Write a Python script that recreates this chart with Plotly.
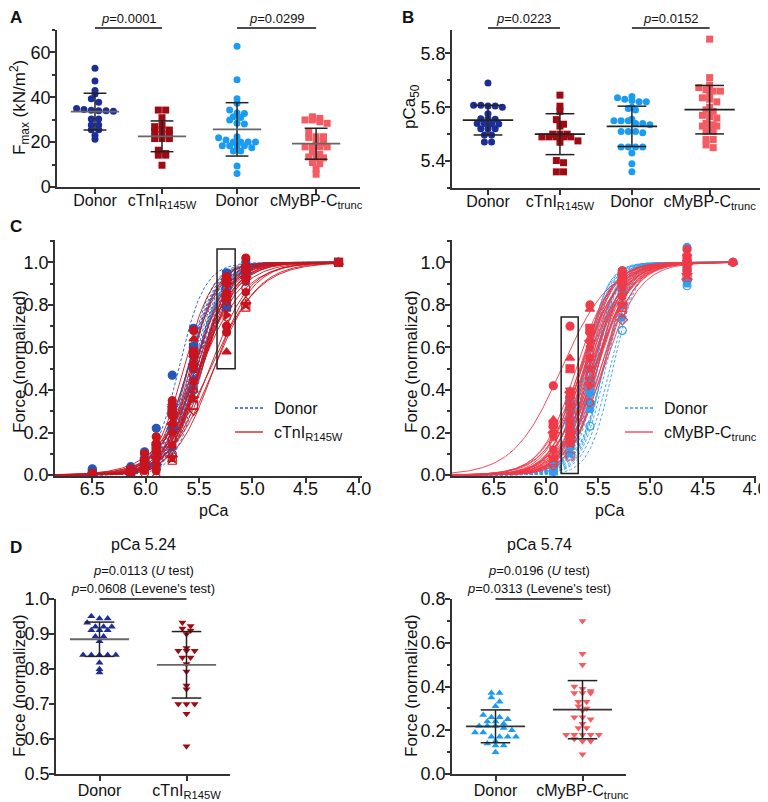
import numpy as np
import plotly.graph_objects as go

# page body has an 8px margin: draw on a 760x794 canvas, reference pixels shifted by 8
W, H = 768, 802
OFF = 8
FW, FH = W - OFF, H - OFF
FONT = "Arial, Liberation Sans, sans-serif"

# ---------------- Panel A: Fmax (kN/m2) ----------------
groups_ab = ["Donor", "cTnI<sub>R145W</sub>", "Donor", "cMyBP-C<sub>trunc</sub>"]
fmax_donor1 = [53.0, 47.3, 43.0, 41.5, 39.3, 37.8, 35.0, 34.5, 34.2, 34.0, 34.0, 33.8,
               30.3, 30.3, 27.6, 27.6, 25.5, 25.5, 23.0, 21.3]
fmax_ctni = [34.3, 34.3, 30.9, 27.6, 26.9, 25.7, 25.4, 24.6, 23.6, 23.1, 21.6, 21.6,
             21.6, 16.4, 14.9, 14.2, 14.2, 9.7]
fmax_donor2 = [62.7, 47.8, 39.3, 37.3, 34.3, 33.0, 32.8, 31.3, 31.0, 29.9, 28.4, 28.1,
               22.4, 22.0, 20.9, 20.1, 20.1, 20.1, 20.1, 18.4, 18.4, 18.4, 18.4, 17.5,
               16.1, 16.1, 9.4, 6.0]
fmax_mybpc = [31.3, 30.6, 29.9, 29.9, 29.1, 28.4, 24.6, 22.4, 22.4, 22.1, 20.1, 19.5,
              17.9, 17.9, 17.9, 17.9, 15.7, 14.5, 13.4, 13.0, 13.0, 10.9, 10.4, 8.1, 5.7]
fmax_mean = [33.6, 22.6, 25.7, 19.3]
fmax_sd = [8.2, 6.85, 11.9, 6.9]
p_a = ["<i>p</i>=0.0001", "<i>p</i>=0.0299"]

# ---------------- Panel B: pCa50 ----------------
pca50_donor1 = [5.690, 5.607, 5.607, 5.605, 5.605, 5.600, 5.576, 5.557, 5.557, 5.555,
                5.540, 5.540, 5.538, 5.538, 5.520, 5.520, 5.520, 5.497, 5.497, 5.471, 5.471]
pca50_ctni = [5.645, 5.604, 5.585, 5.554, 5.537, 5.530, 5.500, 5.500, 5.500, 5.490,
              5.490, 5.490, 5.490, 5.490, 5.475, 5.470, 5.402, 5.394, 5.360, 5.360]
pca50_donor2 = [5.640, 5.635, 5.630, 5.625, 5.620, 5.620, 5.600, 5.595, 5.590, 5.555,
                5.550, 5.550, 5.550, 5.540, 5.540, 5.535, 5.510, 5.510, 5.510, 5.505,
                5.452, 5.452, 5.452, 5.452, 5.430, 5.390, 5.360]
pca50_mybpc = [5.853, 5.710, 5.682, 5.673, 5.665, 5.660, 5.660, 5.640, 5.635, 5.630,
               5.620, 5.600, 5.590, 5.585, 5.570, 5.565, 5.560, 5.540, 5.535, 5.530,
               5.530, 5.530, 5.510, 5.510, 5.480, 5.480, 5.460, 5.450]
pca50_mean = [5.552, 5.500, 5.529, 5.591]
pca50_sd = [0.055, 0.076, 0.075, 0.090]
p_b = ["<i>p</i>=0.0223", "<i>p</i>=0.0152"]

# ---------------- Panel D: force at the boxed pCa ----------------
force524_donor = [0.951, 0.944, 0.944, 0.932, 0.921, 0.921, 0.921, 0.911, 0.911, 0.911,
                  0.893, 0.893, 0.879, 0.840, 0.840, 0.840, 0.840, 0.840, 0.818, 0.799, 0.790]
force524_ctni = [0.933, 0.923, 0.916, 0.910, 0.900, 0.860, 0.852, 0.852, 0.852, 0.833,
                 0.833, 0.814, 0.793, 0.753, 0.742, 0.700, 0.700, 0.700, 0.672, 0.579]
force574_donor = [0.37, 0.37, 0.35, 0.33, 0.31, 0.27, 0.26, 0.26, 0.25, 0.24, 0.24, 0.23,
                  0.22, 0.22, 0.22, 0.21, 0.20, 0.19, 0.19, 0.17, 0.17, 0.17, 0.17, 0.15,
                  0.14, 0.13, 0.13, 0.10]
force574_mybpc = [0.70, 0.55, 0.50, 0.40, 0.39, 0.38, 0.37, 0.37, 0.37, 0.33, 0.33, 0.31,
                  0.30, 0.29, 0.26, 0.26, 0.25, 0.23, 0.21, 0.21, 0.18, 0.18, 0.18, 0.18,
                  0.18, 0.16, 0.15, 0.15, 0.09]
d_left_mean, d_left_sd = [0.885, 0.812], [0.049, 0.095]
d_right_mean, d_right_sd = [0.218, 0.294], [0.075, 0.133]
d_left_labels = ["Donor", "cTnI<sub>R145W</sub>"]
d_right_labels = ["Donor", "cMyBP-C<sub>trunc</sub>"]

# ---------------- Panel C: force-pCa relations ----------------
nh_donor1 = [3.6, 3.2, 3.4, 3.0, 3.8, 3.3, 3.5, 3.1, 3.6, 2.9, 3.4, 3.2, 3.7, 3.0, 3.3,
             3.5, 2.8, 3.4, 3.1, 3.6, 3.2]
nh_ctni = [3.2, 2.9, 3.4, 2.6, 3.0, 2.4, 3.1, 2.2, 2.8, 3.3, 2.0, 2.7, 3.0, 2.5, 2.6,
           2.8, 2.3, 1.9, 2.1, 2.4]
nh_donor2 = [3.8, 4.0, 3.6, 4.2, 3.5, 3.9, 3.7, 4.1, 3.4, 3.8, 4.0, 3.6, 3.9, 3.3, 3.7,
             4.1, 3.5, 3.8, 3.6, 4.0, 3.4, 3.7, 3.9, 3.5, 3.8, 3.6, 3.9]
nh_mybpc = [1.9, 2.6, 2.8, 2.4, 3.0, 2.5, 2.9, 2.7, 3.1, 2.3, 2.8, 2.6, 3.2, 2.5, 2.9,
            2.7, 3.0, 2.4, 2.8, 2.6, 3.1, 2.5, 2.9, 2.7, 3.0, 2.6, 2.8, 2.5]

cl_pca = [6.5, 6.14, 6.01, 5.9, 5.75, 5.55, 5.24, 5.06, 4.19]
cl_donor = [
    [0.03, 0.02, 0.01],
    [0.04, 0.03, 0.02, 0.01],
    [0.11, 0.09, 0.06, 0.04, 0.03],
    [0.22, 0.15, 0.12, 0.08, 0.05, 0.02],
    [0.47, 0.34, 0.30, 0.28, 0.22, 0.13, 0.10],
    [0.69, 0.61, 0.60, 0.55, 0.50, 0.45, 0.40],
    force524_donor,
    [1.00, 0.98, 0.97, 0.96, 0.95, 0.94, 0.93, 0.91],
    [1.0, 1.0, 1.0],
]
cl_ctni = [
    [0.01, 0.0],
    [0.03, 0.02, 0.01, 0.005],
    [0.10, 0.08, 0.06, 0.04, 0.03, 0.02, 0.01],
    [0.18, 0.16, 0.13, 0.10, 0.08, 0.05, 0.03, 0.02, 0.0],
    [0.35, 0.33, 0.30, 0.27, 0.24, 0.20, 0.17, 0.14, 0.10, 0.08, 0.07],
    [0.68, 0.64, 0.58, 0.55, 0.52, 0.50, 0.47, 0.44, 0.40, 0.36, 0.33, 0.30],
    force524_ctni,
    [1.02, 0.99, 0.97, 0.95, 0.93, 0.91, 0.88, 0.86, 0.82, 0.80, 0.79],
    [1.0, 1.0, 1.0],
]
cr_pca = [5.93, 5.77, 5.58, 5.27, 4.65, 4.21]
cr_donor = [
    [0.05, 0.03, 0.02, 0.01],
    force574_donor,
    [0.50, 0.45, 0.40, 0.38, 0.34, 0.31, 0.23],
    [0.96, 0.93, 0.90, 0.86, 0.80, 0.74, 0.68],
    [1.07, 1.00, 0.98, 0.95, 0.92, 0.90, 0.89],
    [1.0, 1.0],
]
cr_mybpc = [
    [0.42, 0.26, 0.24, 0.22, 0.20, 0.18, 0.15, 0.12, 0.10, 0.08, 0.06, 0.04],
    force574_mybpc,
    [0.80, 0.78, 0.69, 0.66, 0.63, 0.60, 0.57, 0.55, 0.52, 0.50, 0.47, 0.45, 0.43, 0.42, 0.34],
    [0.96, 0.95, 0.93, 0.91, 0.90, 0.88, 0.86, 0.84, 0.82, 0.80, 0.79, 0.76, 0.73],
    [1.06, 1.04, 1.02, 1.00, 0.99, 0.98, 0.97, 0.96, 0.95, 0.94, 0.93],
    [1.0, 1.0],
]

# ---------------- colours ----------------
C_DB, C_DR, C_LB, C_LR = "#1c2e96", "#9e0b12", "#1a9cf2", "#f45b62"
C_CLB, C_CLR, C_CRB, C_CRR = "#2457b8", "#c8141e", "#2f9ff0", "#f03a48"

def PX(x):
    return (x - OFF) / FW

def PY(y):
    return 1 - (y - OFF) / FH

def swarm(values, center, binsize, step):
    vals = np.asarray(values, float)
    keys = np.round(vals / binsize).astype(int)
    xs = np.zeros(len(vals))
    for k in np.unique(keys):
        idx = np.where(keys == k)[0]
        n = len(idx)
        xs[idx] = center + (np.arange(n) - (n - 1) / 2) * step
    return xs

fig = go.Figure()
shapes, annos = [], []

def base_axis(**kw):
    d = dict(showline=True, linecolor="#333", linewidth=1.5, ticks="outside", ticklen=5,
             tickwidth=1.5, tickcolor="#333", showgrid=False, zeroline=False, automargin=False,
             tickfont=dict(size=18, color="#111", family=FONT))
    d.update(kw)
    return d

def scatter_panel(xa, ya, datasets, centers, colors, symbols, binsize, step, means, sds,
                  mw, cw, mean_col, sd_col, size=7):
    for vals, c, col, sym in zip(datasets, centers, colors, symbols):
        fig.add_trace(go.Scatter(x=swarm(vals, c, binsize, step), y=vals, mode="markers",
                                 xaxis=xa, yaxis=ya,
                                 marker=dict(symbol=sym, size=size, color=col,
                                             line=dict(width=0))))
    for c, m, s in zip(centers, means, sds):
        shapes.append(dict(type="line", xref=xa, yref=ya, x0=c, x1=c, y0=m - s, y1=m + s,
                           line=dict(color=sd_col, width=1.5)))
        for yy in (m - s, m + s):
            shapes.append(dict(type="line", xref=xa, yref=ya, x0=c - cw, x1=c + cw, y0=yy,
                               y1=yy, line=dict(color=sd_col, width=1.5)))
        shapes.append(dict(type="line", xref=xa, yref=ya, x0=c - mw, x1=c + mw, y0=m, y1=m,
                           line=dict(color=mean_col, width=1.8)))

# ---- Panel A
pos_a = [0, 1, 2.12, 3.30]
scatter_panel("x", "y", [fmax_donor1, fmax_ctni, fmax_donor2, fmax_mybpc], pos_a,
              [C_DB, C_DR, C_LB, C_LR], ["circle", "square", "circle", "square"],
              2.6, 0.11, fmax_mean, fmax_sd, 0.36, 0.17, "#666", "#222")

# ---- Panel B
pos_b = [0, 1, 2, 3.08]
scatter_panel("x2", "y2", [pca50_donor1, pca50_ctni, pca50_donor2, pca50_mybpc], pos_b,
              [C_DB, C_DR, C_LB, C_LR], ["circle", "square", "circle", "square"],
              0.021, 0.10, pca50_mean, pca50_sd, 0.35, 0.2, "#222", "#222")

# ---- Panel D
scatter_panel("x5", "y5", [force524_donor, force524_ctni], [0, 1], [C_DB, C_DR],
              ["triangle-up", "triangle-down"], 0.016, 0.094, d_left_mean, d_left_sd,
              0.34, 0.17, "#666", "#222")
scatter_panel("x6", "y6", [force574_donor, force574_mybpc], [0, 1], [C_LB, C_LR],
              ["triangle-up", "triangle-down"], 0.026, 0.094, d_right_mean, d_right_sd,
              0.34, 0.17, "#333", "#222")

# ---- Panel C (Hill fits from pCa50 and nH of each preparation)
def hill_curves(xa, ya, p50s, nhs, col, dash, x_start, x_end):
    grid = np.linspace(x_start, x_end, 240)
    for p50, nh in zip(p50s, nhs):
        f = 1.0 / (1.0 + 10 ** (nh * (grid - p50)))
        fig.add_trace(go.Scatter(x=grid, y=f, mode="lines", xaxis=xa, yaxis=ya,
                                 line=dict(color=col, width=0.9, dash=dash)))

SYMS = ["circle", "triangle-up", "square", "triangle-down", "diamond", "pentagon",
        "circle-open", "hexagon", "triangle-up-open", "star", "square-open",
        "triangle-down-open", "diamond-open", "triangle-right", "hexagon-open",
        "triangle-left", "pentagon-open", "circle"]

def columns(xa, ya, pcas, cols, color):
    for p, vals in zip(pcas, cols):
        syms = [SYMS[i % len(SYMS)] for i in range(len(vals))]
        fig.add_trace(go.Scatter(x=[p] * len(vals), y=vals, mode="markers", xaxis=xa, yaxis=ya,
                                 marker=dict(symbol=syms, size=8, color=color,
                                             line=dict(color=color, width=1.2))))

hill_curves("x3", "y3", pca50_donor1, nh_donor1, C_CLB, "3px,2px", 6.85, 4.19)
hill_curves("x3", "y3", pca50_ctni, nh_ctni, C_CLR, "solid", 6.85, 4.19)
columns("x3", "y3", cl_pca, cl_donor, C_CLB)
columns("x3", "y3", cl_pca, cl_ctni, C_CLR)

hill_curves("x4", "y4", pca50_donor2, nh_donor2, C_CRB, "3px,2px", 6.92, 4.21)
hill_curves("x4", "y4", pca50_mybpc, nh_mybpc, C_CRR, "solid", 6.92, 4.21)
columns("x4", "y4", cr_pca, cr_donor, C_CRB)
columns("x4", "y4", cr_pca, cr_mybpc, C_CRR)

# boxes marking the pCa used in panel D
shapes.append(dict(type="rect", xref="x3", yref="y3", x0=5.33, x1=5.16, y0=0.5, y1=1.063,
                   line=dict(color="#222", width=1.5)))
shapes.append(dict(type="rect", xref="x4", yref="y4", x0=5.855, x1=5.692, y0=0.008, y1=0.743,
                   line=dict(color="#222", width=1.5)))

# ---------------- axes ----------------
MINOR = dict(ticks="outside", ticklen=3, tickwidth=1.5, tickcolor="#333")
CATFONT = dict(size=16, color="#111", family=FONT)
lay = dict(
    xaxis=base_axis(domain=[PX(57), PX(360)], range=[-0.567, 3.955], anchor="y",
                    tickvals=pos_a, ticktext=groups_ab, tickfont=CATFONT, ticklabelstandoff=-7),
    yaxis=base_axis(domain=[PY(187), PY(30)], range=[0, 70], anchor="x", tickvals=[0, 20, 40, 60],
                    ticklabelstandoff=-4, minor=dict(MINOR, dtick=10)),
    xaxis2=base_axis(domain=[PX(452), PX(760)], range=[-0.5, 3.78], anchor="y2",
                     tickvals=pos_b, ticktext=groups_ab, tickfont=CATFONT, ticklabelstandoff=-7),
    yaxis2=base_axis(domain=[PY(188), PY(30)], range=[5.3, 5.887], anchor="x2",
                     tickvals=[5.4, 5.6, 5.8], tickformat=".1f", ticklabelstandoff=-4,
                     minor=dict(MINOR, tickvals=[5.3, 5.5, 5.7])),
    xaxis3=base_axis(domain=[PX(55), PX(362)], range=[6.85, 3.97], anchor="y3", dtick=0.5,
                     tickformat=".1f", ticklabelstandoff=-9),
    yaxis3=base_axis(domain=[PY(476), PY(240)], range=[-0.004, 1.105], anchor="x3", dtick=0.2,
                     tickformat=".1f", ticklabelstandoff=-4, minor=dict(MINOR, dtick=0.1)),
    xaxis4=base_axis(domain=[PX(452), PX(756)], range=[6.9, 3.99], anchor="y4", dtick=0.5,
                     tickformat=".1f", ticklabelstandoff=-9),
    yaxis4=base_axis(domain=[PY(476), PY(240)], range=[-0.004, 1.105], anchor="x4", dtick=0.2,
                     tickformat=".1f", ticklabelstandoff=-4, minor=dict(MINOR, dtick=0.1)),
    xaxis5=base_axis(domain=[PX(56), PX(230)], range=[-0.5, 1.5], anchor="y5", tickvals=[0, 1],
                     ticktext=d_left_labels, tickfont=CATFONT, ticklabelstandoff=-4),
    yaxis5=base_axis(domain=[PY(774), PY(599)], range=[0.5, 1.0], anchor="x5", dtick=0.1,
                     tickformat=".1f", ticklabelstandoff=-4),
    xaxis6=base_axis(domain=[PX(452), PX(626)], range=[-0.5, 1.5], anchor="y6", tickvals=[0, 1],
                     ticktext=d_right_labels, tickfont=CATFONT, ticklabelstandoff=-4),
    yaxis6=base_axis(domain=[PY(774), PY(599)], range=[0, 0.8], anchor="x6", dtick=0.2,
                     tickformat=".1f", ticklabelstandoff=-4, minor=dict(MINOR, dtick=0.1)),
)

def txt(x, y, s, size=16, angle=0, bold=False, xanchor="center"):
    annos.append(dict(x=PX(x), y=PY(y), xref="paper", yref="paper", text=("<b>%s</b>" % s) if bold else s,
                      showarrow=False, textangle=angle, xanchor=xanchor, yanchor="middle",
                      font=dict(size=size, color="#111", family=FONT)))

# panel letters (kept inside the canvas)
txt(OFF, 17, "A", 17, bold=True, xanchor="left")
txt(400, 17, "B", 17, bold=True, xanchor="left")
txt(OFF, 227, "C", 17, bold=True, xanchor="left")
txt(OFF, 547, "D", 17, bold=True, xanchor="left")

# axis titles
txt(20, 108, "F<sub>max</sub> (kN/m<sup>2</sup>)", 17, angle=-90)
txt(411, 107, "pCa<sub>50</sub>", 17, angle=-90)
txt(19, 362, "Force (normalized)", 17, angle=-90)
txt(411, 362, "Force (normalized)", 17, angle=-90)
txt(19, 686, "Force (normalized)", 17, angle=-90)
txt(411, 686, "Force (normalized)", 17, angle=-90)
txt(213, 510, "pCa", 16)
txt(609, 510, "pCa", 16)

# p-value brackets A, B
for xa, pos, labels in (("x", pos_a, p_a), ("x2", pos_b, p_b)):
    for k, lab in enumerate(labels):
        a, b = pos[2 * k], pos[2 * k + 1]
        shapes.append(dict(type="line", xref=xa, yref="paper", x0=a, x1=b, y0=PY(28), y1=PY(28),
                           line=dict(color="#111", width=1.3)))
        annos.append(dict(x=(a + b) / 2, y=PY(19), xref=xa, yref="paper", text=lab, showarrow=False,
                          font=dict(size=13, color="#111", family=FONT), yanchor="middle"))

# Panel D titles and brackets
for xa, title, p1, p2 in (("x5", "pCa 5.24", "<i>p</i>=0.0113 (<i>U</i> test)",
                           "<i>p</i>=0.0608 (Levene's test)"),
                          ("x6", "pCa 5.74", "<i>p</i>=0.0196 (<i>U</i> test)",
                           "<i>p</i>=0.0313 (Levene's test)")):
    shapes.append(dict(type="line", xref=xa, yref="paper", x0=0, x1=1, y0=PY(599), y1=PY(599),
                       line=dict(color="#111", width=1.3)))
    for yy, s, sz in ((544, title, 16), (570, p1, 13), (588, p2, 13)):
        annos.append(dict(x=0.5, y=PY(yy), xref=xa, yref="paper", text=s, showarrow=False,
                          font=dict(size=sz, color="#111", family=FONT), yanchor="middle"))

# Panel C legends
for x0, col_b, col_r, lab in ((235, C_CLB, C_CLR, "cTnI<sub>R145W</sub>"),
                              (625, C_CRB, C_CRR, "cMyBP-C<sub>trunc</sub>")):
    shapes.append(dict(type="line", xref="paper", yref="paper", x0=PX(x0), x1=PX(x0 + 28),
                       y0=PY(408), y1=PY(408), line=dict(color=col_b, width=1.3, dash="3px,2px")))
    shapes.append(dict(type="line", xref="paper", yref="paper", x0=PX(x0), x1=PX(x0 + 28),
                       y0=PY(432), y1=PY(432), line=dict(color=col_r, width=1.3)))
    txt(x0 + 37, 408, "Donor", 16, xanchor="left")
    txt(x0 + 37, 433, lab, 16, xanchor="left")

fig.update_layout(template="none", width=FW, height=FH, margin=dict(l=0, r=0, t=0, b=0),
                  showlegend=False, plot_bgcolor="white", paper_bgcolor="white",
                  shapes=shapes, annotations=annos,
                  font=dict(family=FONT, color="#111"), **lay)

fig.write_html("out.html")
